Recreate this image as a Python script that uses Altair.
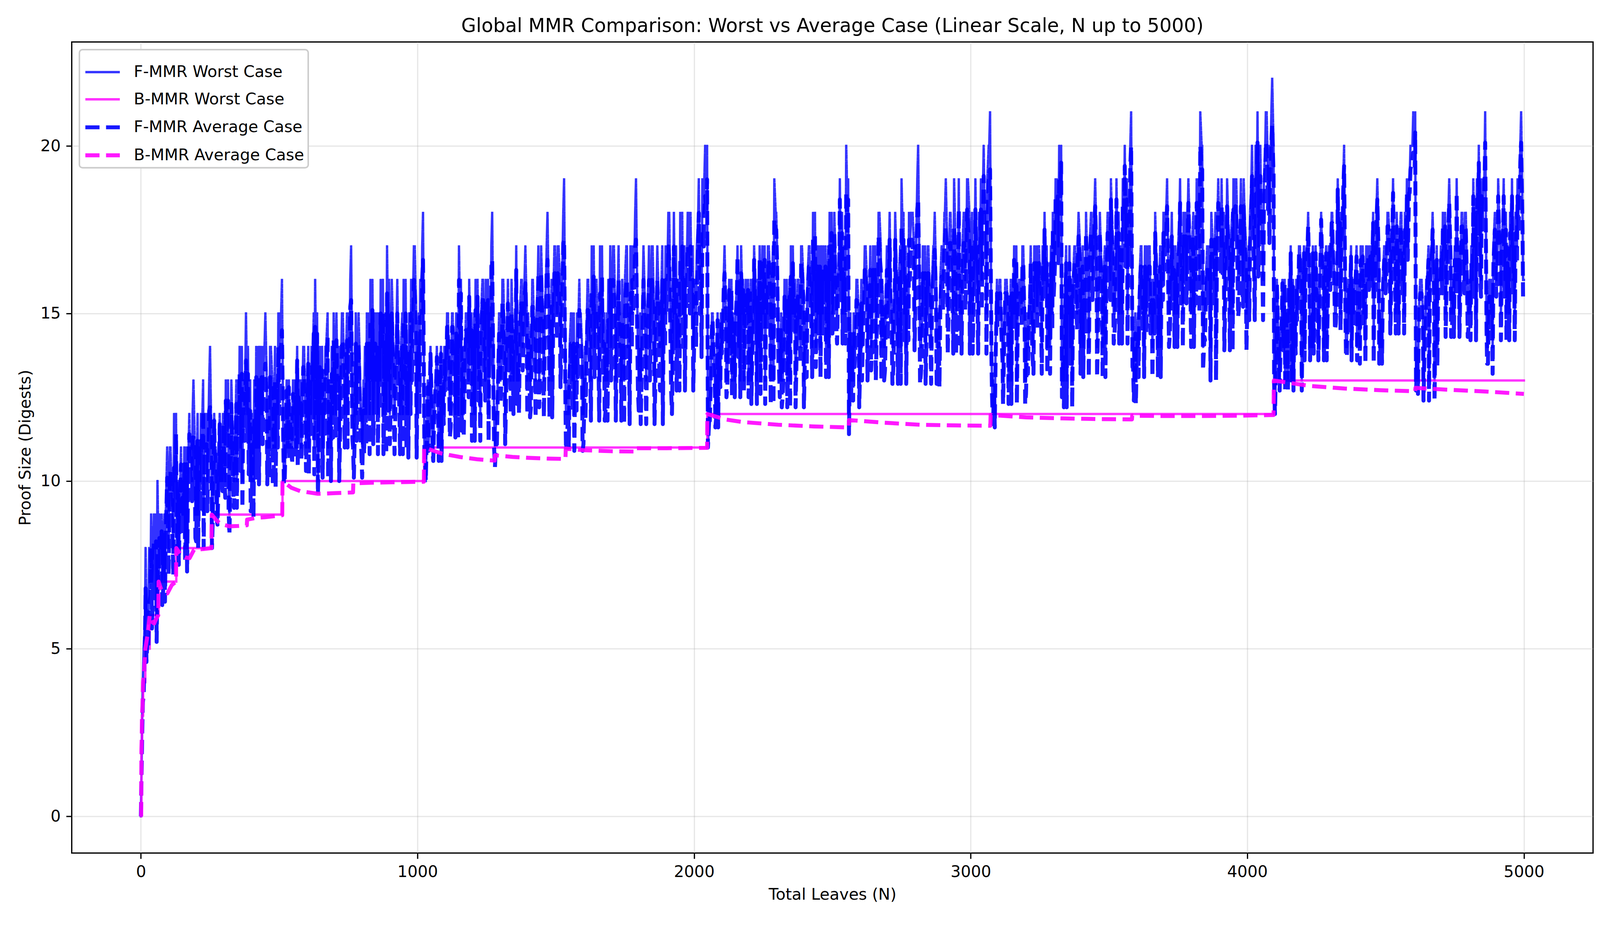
import altair as alt
import pandas as pd

# sample positions (total leaves N) for the F-MMR curves
n_leaves = list(range(0, 5001, 10))
n_mid = list(range(5, 5000, 10))
n_late = list(range(7, 5000, 10))

f_worst = [
    0, 5, 6, 8, 7, 8, 10, 8, 8, 9,
    8, 10, 12, 8, 9, 10, 8, 10, 11, 13,
    9, 11, 11, 12, 10, 14, 9, 11, 10, 11,
    11, 12, 9, 12, 11, 13, 11, 13, 15, 11,
    10, 13, 11, 14, 12, 15, 12, 14, 11, 13,
    13, 16, 10, 11, 12, 13, 11, 13, 11, 14,
    12, 13, 13, 16, 10, 12, 13, 14, 12, 14,
    14, 13, 12, 15, 13, 15, 17, 11, 12, 14,
    11, 14, 13, 16, 12, 13, 15, 14, 13, 17,
    12, 15, 13, 14, 14, 16, 12, 15, 14, 17,
    14, 16, 18, 10, 11, 13, 12, 14, 13, 13,
    13, 15, 12, 14, 15, 17, 12, 13, 15, 14,
    13, 16, 13, 15, 14, 15, 15, 18, 11, 13,
    13, 16, 13, 14, 16, 14, 13, 15, 14, 17,
    15, 13, 15, 15, 13, 16, 15, 18, 14, 15,
    16, 17, 15, 19, 12, 14, 13, 14, 14, 15,
    12, 14, 15, 17, 14, 15, 17, 14, 13, 16,
    14, 17, 15, 14, 16, 16, 14, 17, 16, 19,
    13, 14, 16, 15, 14, 17, 14, 16, 15, 16,
    16, 18, 13, 15, 16, 18, 15, 16, 18, 16,
    15, 17, 16, 19, 20, 11, 13, 14, 12, 14,
    14, 17, 13, 14, 15, 15, 14, 17, 13, 15,
    14, 14, 16, 16, 13, 15, 16, 17, 15, 19,
    17, 13, 13, 15, 14, 17, 15, 14, 15, 17,
    14, 16, 16, 18, 14, 15, 17, 16, 15, 18,
    15, 17, 16, 16, 17, 20, 12, 14, 14, 16,
    14, 15, 17, 15, 14, 16, 15, 18, 16, 14,
    15, 16, 14, 17, 16, 19, 15, 16, 17, 18,
    16, 20, 14, 16, 15, 16, 16, 18, 14, 16,
    16, 19, 16, 17, 19, 16, 15, 17, 16, 19,
    17, 16, 17, 18, 16, 18, 19, 21, 12, 14,
    15, 15, 14, 16, 14, 16, 15, 15, 16, 17,
    13, 15, 15, 17, 15, 16, 17, 16, 15, 17,
    16, 18, 20, 13, 15, 16, 14, 16, 16, 18,
    15, 16, 17, 17, 16, 19, 15, 17, 16, 16,
    17, 18, 15, 17, 17, 19, 17, 18, 21, 13,
    14, 16, 15, 17, 16, 15, 16, 17, 15, 17,
    17, 19, 15, 16, 17, 17, 16, 18, 16, 18,
    17, 17, 18, 21, 14, 16, 16, 18, 16, 17,
    18, 17, 16, 18, 17, 19, 19, 16, 17, 18,
    16, 18, 18, 20, 17, 18, 19, 21, 18, 22,
    12, 15, 14, 14, 15, 16, 13, 15, 15, 17,
    15, 16, 18, 15, 14, 16, 15, 17, 16, 15,
    16, 17, 15, 17, 17, 20, 14, 15, 16, 16,
    15, 17, 15, 17, 16, 16, 17, 19, 14, 16,
    16, 18, 16, 17, 18, 17, 16, 18, 17, 20,
    21, 13, 15, 16, 14, 16, 16, 18, 15, 16,
    17, 17, 16, 19, 15, 17, 16, 16, 17, 18,
    15, 17, 17, 19, 17, 18, 21, 14, 15, 17,
    16, 18, 17, 16, 17, 18, 16, 18, 18, 21,
    16,
]

# values read between the samples above (N = 5, 15, ... 4995)
f_worst_mid = [
    3, 6, 6, 7, 8, 9, 7, 9, 9, 11,
    11, 9, 10, 10, 11, 9, 11, 12, 10, 11,
    12, 10, 13, 11, 12, 11, 12, 9, 12, 10,
    10, 13, 11, 10, 13, 12, 14, 12, 12, 13,
    12, 11, 14, 12, 14, 13, 11, 13, 14, 12,
    15, 11, 12, 13, 11, 12, 14, 12, 13, 12,
    14, 12, 15, 12, 12, 14, 12, 15, 13, 12,
    12, 14, 14, 13, 15, 14, 12, 13, 14, 12,
    13, 12, 15, 13, 14, 15, 13, 16, 15, 13,
    14, 13, 15, 13, 15, 13, 14, 13, 16, 15,
    15, 15, 11, 12, 13, 11, 13, 12, 14, 12,
    14, 13, 15, 13, 14, 14, 14, 15, 13, 15,
    15, 14, 14, 16, 13, 16, 14, 13, 12, 15,
    14, 14, 15, 15, 14, 15, 14, 16, 15, 15,
    14, 16, 14, 16, 15, 14, 16, 15, 16, 17,
    15, 16, 17, 13, 13, 15, 15, 13, 16, 14,
    14, 16, 14, 15, 16, 14, 15, 15, 15, 15,
    16, 15, 16, 15, 14, 17, 15, 15, 17, 15,
    15, 16, 14, 16, 16, 15, 16, 14, 17, 15,
    17, 15, 16, 17, 15, 16, 17, 17, 16, 17,
    16, 18, 17, 18, 19, 12, 15, 13, 15, 13,
    15, 15, 15, 16, 14, 16, 16, 15, 15, 16,
    16, 15, 15, 14, 16, 17, 15, 16, 17, 18,
    14, 15, 14, 16, 16, 15, 16, 16, 14, 16,
    15, 17, 15, 16, 16, 17, 15, 17, 17, 16,
    16, 15, 17, 18, 16, 18, 15, 13, 15, 15,
    16, 16, 16, 16, 15, 17, 16, 17, 15, 16,
    17, 15, 16, 15, 17, 17, 17, 15, 18, 17,
    18, 16, 15, 17, 17, 15, 17, 16, 15, 17,
    18, 17, 18, 16, 17, 17, 16, 18, 17, 18,
    18, 17, 16, 17, 19, 18, 20, 14, 13, 16,
    16, 14, 16, 15, 16, 15, 17, 16, 15, 15,
    15, 16, 14, 16, 17, 15, 16, 17, 16, 15,
    17, 19, 19, 14, 17, 15, 16, 17, 15, 17,
    17, 15, 16, 18, 17, 17, 16, 16, 17, 18,
    16, 17, 16, 18, 16, 18, 19, 17, 14, 15,
    15, 17, 16, 15, 17, 16, 15, 16, 17, 16,
    18, 16, 17, 17, 16, 18, 17, 17, 18, 16,
    18, 16, 19, 20, 15, 17, 17, 17, 18, 19,
    17, 18, 17, 17, 18, 18, 17, 18, 16, 17,
    17, 19, 17, 19, 19, 17, 20, 19, 20, 20,
    14, 13, 15, 16, 14, 15, 16, 14, 16, 16,
    17, 17, 16, 14, 16, 15, 17, 16, 17, 17,
    18, 16, 16, 18, 18, 15, 16, 17, 15, 17,
    16, 16, 16, 16, 17, 18, 16, 17, 15, 17,
    17, 17, 18, 16, 16, 18, 17, 17, 19, 20,
    20, 14, 16, 15, 15, 17, 17, 16, 17, 16,
    16, 18, 17, 17, 16, 16, 17, 18, 16, 16,
    16, 16, 18, 18, 16, 19, 15, 16, 16, 18,
    17, 17, 18, 18, 16, 17, 17, 17, 19, 18,
]

# N = 7, 17, ... 4997
f_worst_late = [
    4, 8, 6, 9, 9, 6, 9, 7, 7, 10,
    11, 8, 12, 8, 9, 11, 8, 11, 12, 9,
    9, 12, 9, 12, 13, 9, 11, 9, 10, 12,
    13, 10, 13, 10, 10, 14, 10, 13, 14, 10,
    10, 14, 11, 14, 14, 11, 14, 11, 11, 15,
    15, 10, 13, 11, 11, 13, 11, 13, 14, 11,
    11, 14, 11, 15, 14, 11, 14, 11, 11, 15,
    15, 11, 15, 12, 12, 16, 12, 15, 15, 12,
    12, 15, 12, 16, 15, 12, 16, 12, 12, 16,
    16, 12, 16, 12, 12, 16, 12, 16, 17, 12,
    13, 17, 11, 13, 14, 11, 13, 11, 11, 14,
    15, 12, 15, 12, 12, 16, 12, 15, 16, 12,
    12, 16, 12, 16, 16, 12, 17, 12, 12, 15,
    16, 12, 16, 13, 13, 17, 13, 16, 16, 13,
    13, 16, 13, 17, 17, 13, 17, 13, 13, 17,
    17, 14, 18, 12, 12, 15, 12, 15, 15, 12,
    13, 16, 13, 17, 16, 13, 17, 13, 13, 17,
    17, 13, 17, 13, 13, 17, 13, 17, 18, 14,
    13, 17, 13, 17, 17, 13, 17, 14, 13, 17,
    18, 14, 18, 14, 14, 18, 14, 18, 18, 14,
    15, 19, 15, 19, 20, 12, 15, 12, 12, 15,
    16, 13, 16, 13, 13, 17, 13, 16, 16, 13,
    13, 17, 13, 17, 17, 13, 17, 13, 13, 18,
    14, 13, 16, 13, 13, 17, 13, 16, 17, 13,
    14, 17, 14, 18, 17, 14, 17, 14, 14, 18,
    18, 15, 19, 15, 15, 19, 13, 15, 16, 13,
    14, 17, 14, 17, 17, 14, 18, 14, 14, 17,
    18, 14, 18, 14, 14, 18, 14, 18, 18, 15,
    19, 14, 17, 14, 17, 14, 17, 14, 14, 17,
    18, 15, 18, 15, 15, 19, 15, 18, 19, 15,
    15, 19, 15, 19, 20, 15, 20, 13, 12, 15,
    16, 13, 16, 13, 13, 17, 13, 16, 17, 13,
    14, 17, 14, 17, 17, 14, 18, 14, 14, 18,
    19, 17, 20, 13, 13, 17, 13, 17, 17, 14,
    14, 18, 14, 18, 18, 14, 18, 14, 14, 18,
    19, 15, 19, 15, 15, 20, 15, 20, 14, 13,
    14, 17, 14, 17, 17, 14, 18, 14, 14, 18,
    18, 15, 18, 15, 15, 19, 15, 18, 19, 15,
    15, 19, 16, 20, 15, 17, 14, 17, 14, 18,
    19, 15, 19, 15, 15, 19, 16, 19, 19, 15,
    16, 20, 16, 21, 20, 16, 21, 20, 21, 13,
    16, 13, 16, 13, 13, 17, 13, 16, 17, 13,
    14, 17, 14, 17, 17, 14, 18, 14, 14, 17,
    18, 15, 19, 15, 19, 14, 16, 14, 16, 14,
    14, 17, 14, 17, 17, 14, 18, 14, 14, 17,
    18, 15, 19, 15, 15, 18, 15, 19, 19, 20,
    21, 13, 16, 13, 16, 13, 17, 13, 14, 16,
    18, 15, 18, 15, 15, 19, 15, 18, 18, 15,
    15, 19, 15, 20, 19, 19, 14, 16, 14, 17,
    19, 15, 19, 15, 15, 19, 15, 19, 20, 16,
]

f_avg = [
    0, 3.6, 4.6, 6.3, 5.6, 6.5, 7.3, 7.6, 6.6, 8.3,
    7.2, 9.1, 10.4, 7.9, 8.7, 9.5, 7.6, 9.4, 9.8, 11.3,
    8.2, 10.1, 10.2, 10.8, 9.1, 12.2, 8.9, 10.8, 9.7, 10.6,
    10.5, 11.4, 8.4, 11.1, 10.3, 12.3, 10.3, 12.2, 13.6, 10.2,
    9.1, 11.8, 10.1, 12.6, 11.1, 13.5, 11.1, 12.9, 10.1, 12.0,
    12.0, 14.5, 10.0, 10.9, 11.8, 12.6, 10.7, 12.5, 10.6, 13.1,
    11.5, 12.4, 12.3, 14.6, 9.6, 11.4, 12.3, 13.2, 11.3, 13.2,
    13.3, 12.3, 11.3, 14.1, 12.2, 14.1, 15.4, 10.1, 11.2, 12.9,
    10.1, 12.8, 12.1, 14.8, 11.1, 12.1, 13.8, 13.1, 12.1, 15.6,
    11.1, 13.8, 12.0, 13.1, 13.0, 14.8, 11.0, 13.8, 13.0, 15.7,
    13.0, 14.9, 16.6, 10.0, 10.9, 12.8, 11.8, 13.7, 12.8, 12.7,
    12.7, 14.3, 11.6, 13.6, 14.4, 16.0, 11.5, 12.6, 14.2, 13.5,
    12.5, 15.1, 12.4, 14.4, 13.4, 14.4, 14.4, 16.6, 10.4, 12.4,
    12.3, 15.0, 12.3, 13.3, 15.0, 13.3, 12.3, 14.3, 13.3, 15.9,
    14.2, 12.2, 14.2, 14.2, 12.2, 15.1, 14.2, 16.6, 13.2, 14.2,
    15.2, 15.8, 14.1, 17.2, 11.2, 13.2, 12.1, 13.0, 13.1, 14.1,
    11.1, 13.1, 14.0, 15.7, 13.1, 14.1, 15.6, 13.1, 12.1, 14.8,
    13.0, 15.6, 14.0, 13.0, 14.8, 15.0, 13.0, 15.6, 15.0, 17.2,
    12.1, 13.0, 14.8, 14.0, 13.0, 15.7, 13.0, 15.0, 14.0, 14.8,
    15.0, 16.6, 12.0, 14.0, 14.8, 16.6, 14.0, 15.0, 16.5, 15.0,
    14.0, 15.8, 15.0, 17.5, 18.5, 11.0, 12.9, 13.8, 11.9, 13.8,
    13.8, 16.2, 12.8, 13.8, 14.7, 14.7, 13.7, 16.2, 12.7, 14.7,
    13.7, 13.7, 15.4, 15.6, 12.6, 14.6, 15.4, 16.6, 14.6, 17.8,
    16.5, 12.5, 12.5, 14.5, 13.5, 16.1, 14.5, 13.5, 14.5, 16.1,
    13.4, 15.4, 15.4, 17.2, 13.4, 14.4, 16.1, 15.4, 14.4, 17.0,
    14.4, 16.2, 15.4, 15.4, 16.2, 18.6, 11.4, 13.4, 13.4, 15.3,
    13.3, 14.3, 16.1, 14.3, 13.3, 15.2, 14.3, 16.8, 15.2, 13.3,
    14.2, 15.2, 13.3, 16.0, 15.2, 17.6, 14.2, 15.2, 16.0, 17.0,
    15.2, 18.4, 13.2, 15.2, 14.2, 15.2, 15.1, 16.9, 13.2, 15.1,
    15.1, 17.6, 15.1, 16.1, 17.6, 15.1, 14.1, 16.1, 15.1, 17.6,
    16.1, 15.1, 16.1, 17.0, 15.1, 17.0, 17.6, 19.3, 11.7, 13.6,
    14.6, 14.6, 13.6, 15.6, 13.6, 15.6, 14.6, 14.6, 15.6, 16.5,
    12.6, 14.5, 14.5, 16.5, 14.5, 15.5, 16.5, 15.5, 14.5, 16.5,
    15.5, 17.4, 19.0, 12.5, 14.5, 15.5, 13.5, 15.5, 15.5, 17.3,
    14.5, 15.4, 16.4, 16.4, 15.4, 18.2, 14.4, 16.4, 15.4, 15.4,
    16.4, 17.3, 14.4, 16.4, 16.4, 18.2, 16.4, 17.3, 20.0, 12.4,
    13.4, 15.4, 14.4, 16.4, 15.4, 14.4, 15.4, 16.4, 14.4, 16.3,
    16.3, 18.2, 14.4, 15.3, 16.3, 16.3, 15.3, 17.3, 15.3, 17.3,
    16.3, 16.3, 17.3, 20.0, 13.3, 15.3, 15.3, 17.2, 15.3, 16.3,
    17.2, 16.2, 15.3, 17.2, 16.2, 18.1, 18.0, 15.2, 16.2, 17.2,
    15.1, 17.1, 17.1, 19.0, 16.1, 17.1, 18.1, 19.9, 17.1, 20.6,
    12.0, 14.9, 13.9, 13.9, 14.8, 15.8, 12.9, 14.8, 14.8, 16.7,
    14.8, 15.8, 17.6, 14.8, 13.8, 15.8, 14.8, 16.7, 15.8, 14.8,
    15.7, 16.7, 14.7, 16.7, 16.7, 19.4, 13.7, 14.7, 15.7, 15.7,
    14.7, 16.6, 14.7, 16.6, 15.7, 15.7, 16.6, 18.4, 13.7, 15.6,
    15.6, 17.6, 15.6, 16.6, 17.6, 16.6, 15.6, 17.5, 16.6, 19.3,
    19.8, 12.7, 14.6, 15.6, 13.6, 15.6, 15.6, 17.5, 14.6, 15.6,
    16.6, 16.6, 15.6, 18.3, 14.6, 16.6, 15.6, 15.6, 16.6, 17.5,
    14.6, 16.5, 16.5, 18.4, 16.5, 17.5, 20.1, 13.5, 14.5, 16.5,
    15.5, 17.4, 16.5, 15.5, 16.5, 17.4, 15.5, 17.4, 17.4, 20.1,
    15.5,
]

f_avg_mid = [
    2.6, 5.3, 5.5, 6.6, 7.3, 8.2, 6.9, 8.5, 8.4, 10.1,
    10.1, 8.1, 9.5, 9.6, 10.5, 8.6, 10.5, 11.4, 9.4, 10.2,
    11.2, 9.1, 12.1, 10.2, 11.1, 10.3, 11.8, 8.8, 11.7, 9.7,
    9.5, 12.4, 10.4, 9.3, 12.3, 11.3, 13.2, 11.2, 11.2, 12.1,
    11.1, 10.1, 13.1, 11.1, 13.1, 12.1, 10.1, 12.0, 13.0, 11.0,
    14.0, 11.0, 11.9, 12.8, 10.8, 11.7, 13.6, 11.6, 12.6, 11.6,
    13.5, 11.4, 14.4, 11.5, 11.4, 13.3, 11.3, 14.3, 12.3, 11.3,
    11.3, 13.2, 13.2, 12.3, 14.2, 13.2, 11.2, 12.2, 13.1, 11.1,
    12.1, 11.1, 14.1, 12.1, 13.1, 14.1, 12.1, 15.0, 14.0, 12.1,
    13.0, 12.0, 14.0, 12.0, 14.0, 12.0, 13.0, 12.0, 15.0, 14.0,
    14.0, 14.0, 10.9, 11.9, 12.8, 10.8, 12.8, 11.8, 13.8, 11.7,
    13.7, 12.7, 14.6, 12.6, 13.6, 13.6, 13.5, 14.5, 12.5, 14.5,
    14.5, 13.5, 13.4, 15.4, 12.4, 15.4, 13.4, 12.4, 11.4, 14.4,
    13.3, 13.3, 14.3, 14.3, 13.3, 14.3, 13.3, 15.3, 14.3, 14.3,
    13.2, 15.2, 13.2, 15.2, 14.2, 13.2, 15.2, 14.2, 15.2, 16.2,
    14.2, 15.1, 16.1, 12.2, 12.1, 14.1, 14.1, 12.1, 15.1, 13.1,
    13.1, 15.1, 13.1, 14.1, 15.1, 13.1, 14.1, 14.1, 14.0, 14.0,
    15.0, 14.0, 15.0, 14.0, 13.0, 16.0, 14.0, 14.0, 16.0, 14.0,
    14.0, 15.0, 13.0, 15.0, 15.0, 14.0, 15.0, 13.0, 16.0, 14.0,
    16.0, 14.0, 15.0, 16.0, 14.0, 15.0, 16.0, 16.0, 15.0, 16.0,
    15.0, 17.0, 16.0, 17.0, 18.0, 11.9, 14.8, 12.8, 14.8, 12.8,
    14.8, 14.8, 14.8, 15.7, 13.7, 15.7, 15.7, 14.7, 14.7, 15.7,
    15.6, 14.6, 14.6, 13.6, 15.6, 16.6, 14.6, 15.6, 16.6, 17.5,
    13.5, 14.5, 13.5, 15.5, 15.5, 14.5, 15.5, 15.5, 13.5, 15.5,
    14.4, 16.4, 14.4, 15.4, 15.4, 16.4, 14.4, 16.4, 16.4, 15.4,
    15.4, 14.4, 16.4, 17.4, 15.4, 17.4, 14.4, 12.4, 14.4, 14.4,
    15.3, 15.3, 15.3, 15.3, 14.3, 16.3, 15.3, 16.3, 14.3, 15.3,
    16.2, 14.2, 15.2, 14.2, 16.2, 16.2, 16.2, 14.2, 17.2, 16.2,
    17.2, 15.2, 14.2, 16.2, 16.2, 14.2, 16.2, 15.2, 14.1, 16.1,
    17.1, 16.1, 17.1, 15.1, 16.1, 16.1, 15.1, 17.1, 16.1, 17.1,
    17.1, 16.1, 15.1, 16.1, 18.1, 17.1, 19.1, 13.7, 12.6, 15.6,
    15.6, 13.6, 15.6, 14.6, 15.6, 14.6, 16.6, 15.6, 14.6, 14.6,
    14.5, 15.5, 13.5, 15.5, 16.5, 14.5, 15.5, 16.5, 15.5, 14.5,
    16.5, 18.5, 18.5, 13.5, 16.5, 14.5, 15.5, 16.5, 14.5, 16.5,
    16.4, 14.4, 15.4, 17.4, 16.4, 16.4, 15.4, 15.4, 16.4, 17.4,
    15.4, 16.4, 15.4, 17.4, 15.4, 17.4, 18.4, 16.4, 13.4, 14.4,
    14.4, 16.4, 15.4, 14.4, 16.4, 15.4, 14.4, 15.4, 16.4, 15.4,
    17.3, 15.3, 16.3, 16.3, 15.3, 17.3, 16.3, 16.3, 17.3, 15.3,
    17.3, 15.3, 18.3, 19.3, 14.3, 16.3, 16.3, 16.3, 17.3, 18.3,
    16.2, 17.2, 16.2, 16.2, 17.2, 17.2, 16.2, 17.2, 15.2, 16.2,
    16.1, 18.1, 16.1, 18.1, 18.1, 16.1, 19.1, 18.1, 19.1, 19.1,
    13.9, 12.9, 14.9, 15.9, 13.9, 14.8, 15.8, 13.8, 15.8, 15.8,
    16.8, 16.8, 15.8, 13.8, 15.8, 14.8, 16.8, 15.8, 16.8, 16.7,
    17.7, 15.7, 15.7, 17.7, 17.7, 14.7, 15.7, 16.7, 14.7, 16.7,
    15.7, 15.7, 15.7, 15.7, 16.7, 17.7, 15.7, 16.7, 14.7, 16.6,
    16.6, 16.6, 17.6, 15.6, 15.6, 17.6, 16.6, 16.6, 18.6, 19.5,
    19.4, 13.7, 15.6, 14.6, 14.6, 16.6, 16.6, 15.6, 16.6, 15.6,
    15.6, 17.6, 16.6, 16.6, 15.6, 15.6, 16.6, 17.6, 15.6, 15.6,
    15.5, 15.5, 17.5, 17.5, 15.5, 18.5, 14.5, 15.5, 15.5, 17.5,
    16.5, 16.5, 17.5, 17.5, 15.5, 16.5, 16.5, 16.5, 18.5, 17.5,
]

f_avg_late = [
    3.4, 6.8, 5.0, 8.0, 8.2, 5.2, 8.3, 6.3, 6.4, 9.2,
    10.3, 7.2, 11.4, 7.5, 8.4, 10.5, 7.3, 10.5, 11.3, 8.3,
    8.0, 11.2, 8.0, 11.1, 12.1, 8.0, 10.8, 8.7, 9.7, 11.7,
    12.4, 9.2, 12.3, 9.2, 9.2, 13.2, 9.2, 12.2, 13.2, 9.1,
    8.9, 13.1, 9.9, 13.1, 13.1, 9.9, 13.1, 9.9, 9.8, 14.0,
    14.0, 9.9, 12.7, 10.6, 10.5, 12.5, 10.4, 12.4, 13.4, 10.3,
    10.2, 13.4, 10.2, 14.4, 13.4, 10.1, 13.3, 10.1, 10.0, 14.2,
    14.2, 10.0, 14.2, 11.0, 11.0, 15.2, 11.0, 14.1, 14.1, 10.9,
    10.8, 14.1, 10.8, 15.1, 14.1, 10.8, 15.0, 10.8, 10.8, 15.0,
    15.0, 10.8, 15.0, 10.8, 10.8, 15.0, 10.7, 15.0, 16.0, 10.7,
    12.0, 16.0, 10.8, 12.8, 13.8, 10.6, 12.8, 10.6, 10.6, 13.7,
    14.6, 11.3, 14.6, 11.3, 11.3, 15.6, 11.3, 14.5, 15.5, 11.2,
    11.2, 15.5, 11.2, 15.4, 15.4, 11.2, 16.4, 11.0, 11.1, 14.4,
    15.3, 11.1, 15.3, 12.0, 12.0, 16.3, 12.0, 15.3, 15.3, 12.0,
    11.9, 15.2, 11.9, 16.2, 16.2, 11.9, 16.2, 11.9, 11.9, 16.2,
    16.2, 12.8, 17.1, 10.9, 11.0, 14.1, 10.9, 14.1, 14.1, 10.9,
    11.8, 15.1, 11.8, 16.1, 15.1, 11.8, 16.1, 11.8, 11.8, 16.0,
    16.0, 11.8, 16.0, 11.8, 11.7, 16.0, 11.7, 16.0, 17.0, 12.7,
    11.7, 16.0, 11.7, 16.0, 16.0, 11.7, 16.0, 12.7, 11.7, 16.0,
    17.0, 12.7, 17.0, 12.7, 12.7, 17.0, 12.7, 17.0, 17.0, 12.7,
    14.0, 18.0, 13.7, 18.0, 19.0, 11.8, 14.8, 11.6, 11.6, 14.8,
    15.7, 12.5, 15.7, 12.5, 12.5, 16.7, 12.5, 15.7, 15.7, 12.5,
    12.3, 16.6, 12.3, 16.6, 16.6, 12.3, 16.6, 12.3, 12.3, 17.5,
    13.3, 12.2, 15.5, 12.2, 12.2, 16.5, 12.2, 15.5, 16.5, 12.2,
    13.1, 16.4, 13.1, 17.4, 16.4, 13.1, 16.4, 13.1, 13.1, 17.4,
    17.4, 14.1, 18.4, 14.1, 14.1, 18.4, 12.3, 14.4, 15.4, 12.2,
    13.0, 16.3, 13.0, 16.3, 16.3, 13.0, 17.3, 13.0, 13.0, 16.3,
    17.2, 12.9, 17.2, 12.9, 12.9, 17.2, 12.9, 17.2, 17.2, 13.9,
    18.1, 12.9, 16.2, 12.9, 16.2, 12.9, 16.1, 12.9, 12.8, 16.1,
    17.1, 13.8, 17.1, 13.8, 13.8, 18.1, 13.8, 17.1, 18.1, 13.8,
    13.8, 18.1, 13.8, 18.1, 19.1, 13.8, 19.1, 12.6, 11.6, 14.6,
    15.6, 12.3, 15.6, 12.3, 12.3, 16.6, 12.3, 15.6, 16.5, 12.3,
    13.2, 16.5, 13.2, 16.5, 16.5, 13.2, 17.5, 13.2, 13.2, 17.5,
    18.5, 16.5, 19.5, 12.2, 12.2, 16.5, 12.2, 16.5, 16.5, 13.2,
    13.1, 17.4, 13.1, 17.4, 17.4, 13.1, 17.4, 13.1, 13.1, 17.4,
    18.4, 14.1, 18.4, 14.1, 14.1, 19.4, 14.1, 19.4, 13.4, 12.3,
    13.1, 16.4, 13.1, 16.4, 16.4, 13.1, 17.4, 13.1, 13.1, 17.4,
    17.3, 14.0, 17.3, 14.0, 14.0, 18.3, 14.0, 17.3, 18.3, 14.0,
    14.0, 18.3, 15.0, 19.3, 14.2, 16.3, 13.0, 16.3, 13.0, 17.3,
    18.2, 13.9, 18.2, 13.9, 13.9, 18.2, 14.9, 18.2, 18.2, 13.9,
    14.8, 19.1, 14.8, 20.1, 19.1, 14.8, 20.1, 19.1, 20.1, 12.9,
    15.9, 12.7, 15.9, 12.7, 12.7, 16.8, 12.7, 15.8, 16.8, 12.7,
    13.6, 16.8, 13.6, 16.8, 16.8, 13.6, 17.8, 13.6, 13.6, 16.8,
    17.7, 14.5, 18.7, 14.5, 18.7, 13.7, 15.7, 13.6, 15.7, 13.6,
    13.5, 16.7, 13.5, 16.7, 16.7, 13.5, 17.7, 13.5, 13.5, 16.6,
    17.6, 14.4, 18.6, 14.4, 14.4, 17.6, 14.4, 18.6, 18.6, 19.6,
    20.4, 12.6, 15.6, 12.4, 15.6, 12.4, 16.6, 12.4, 13.4, 15.6,
    17.6, 14.3, 17.6, 14.3, 14.3, 18.6, 14.3, 17.6, 17.6, 14.3,
    14.2, 18.5, 14.2, 19.5, 18.5, 18.5, 13.5, 15.5, 13.2, 16.5,
    18.5, 14.2, 18.5, 14.2, 14.2, 18.5, 14.2, 18.5, 19.5, 15.5,
]

# B-MMR worst case is a staircase
b_worst_n = [1, 2, 4, 8, 16, 32, 64, 128, 256, 512, 1024, 2048, 4096, 5000]
b_worst = [0, 2, 3, 4, 5, 6, 7, 8, 9, 10, 11, 12, 13, 13]

b_avg_n = [
    1, 2, 3, 4, 6, 8, 12, 16, 24, 32, 40, 48, 56, 63,
    64, 72, 80, 96, 112, 127, 128, 144, 160, 176, 192, 224, 255,
    256, 272, 288, 320, 352, 383, 384, 416, 448, 480, 511,
    512, 544, 576, 640, 704, 767, 768, 832, 896, 960, 1023,
    1024, 1088, 1152, 1216, 1279, 1280, 1344, 1408, 1472, 1535,
    1536, 1600, 1700, 1791, 1792, 1900, 2047,
    2048, 2112, 2176, 2304, 2432, 2559, 2560, 2688, 2816, 2944, 3071,
    3072, 3200, 3328, 3456, 3583, 3584, 3712, 3840, 3968, 4095,
    4096, 4224, 4352, 4480, 4607, 4608, 4736, 4864, 5000,
]
b_avg = [
    0.0, 2.0, 2.3, 3.0, 3.3, 4.0, 4.4, 5.0, 5.4, 6.0, 5.8, 5.75, 5.9, 6.0,
    7.0, 6.8, 6.7, 6.65, 6.9, 7.0, 8.0, 7.8, 7.72, 7.7, 7.95, 7.97, 8.0,
    9.0, 8.84, 8.72, 8.65, 8.66, 8.68, 8.85, 8.9, 8.92, 8.95, 8.98,
    10.0, 9.8, 9.7, 9.62, 9.64, 9.66, 9.93, 9.95, 9.96, 9.97, 9.98,
    11.0, 10.82, 10.72, 10.65, 10.61, 10.77, 10.72, 10.69, 10.67, 10.66,
    10.97, 10.92, 10.89, 10.88, 10.98, 10.98, 10.99,
    12.0, 11.84, 11.76, 11.68, 11.63, 11.6, 11.82, 11.74, 11.68, 11.66, 11.65,
    11.97, 11.9, 11.87, 11.85, 11.84, 11.95, 11.94, 11.94, 11.95, 11.97,
    13.0, 12.84, 12.76, 12.71, 12.68, 12.78, 12.72, 12.67, 12.6,
]

series = ["F-MMR Worst Case", "B-MMR Worst Case", "F-MMR Average Case", "B-MMR Average Case"]

f_n = n_leaves + n_mid + n_late
df_fw = pd.DataFrame({"N": f_n, "size": f_worst + f_worst_mid + f_worst_late}).sort_values("N")
df_fw["series"] = series[0]
df_fa = pd.DataFrame({"N": f_n, "size": f_avg + f_avg_mid + f_avg_late}).sort_values("N")
df_fa["series"] = series[2]
df_bw = pd.DataFrame({"N": b_worst_n, "size": b_worst, "series": series[1]})
df_ba = pd.DataFrame({"N": b_avg_n, "size": b_avg, "series": series[3]})

FONT = "DejaVu Sans"

x_enc = alt.X("N:Q", title="Total Leaves (N)",
              scale=alt.Scale(domain=[-250, 5250], nice=False, zero=False),
              axis=alt.Axis(values=[0, 1000, 2000, 3000, 4000, 5000], format="d"))
y_enc = alt.Y("size:Q", title="Proof Size (Digests)",
              scale=alt.Scale(domain=[-1.1, 23.1], nice=False, zero=False),
              axis=alt.Axis(values=[0, 5, 10, 15, 20]))
color_enc = alt.Color("series:N", title=None,
                      scale=alt.Scale(domain=series, range=["blue", "magenta", "blue", "magenta"]),
                      legend=alt.Legend(
                          orient="top-left", offset=20, padding=10,
                          fillColor="white", strokeColor="#cccccc", cornerRadius=8,
                          symbolType="stroke", symbolSize=8100, labelLimit=0,
                          labelOffset=31, rowPadding=-50,
                      ))
dash_enc = alt.StrokeDash("series:N", title=None,
                          scale=alt.Scale(domain=series, range=[[1, 0], [1, 0], [37, 17], [37, 17]]))
width_enc = alt.StrokeWidth("series:N", title=None,
                            scale=alt.Scale(type="ordinal", domain=series, range=[6.2, 6.2, 10.4, 10.4]))
opac_enc = alt.Opacity("series:N", title=None,
                       scale=alt.Scale(type="ordinal", domain=series, range=[0.8, 0.8, 0.9, 0.9]))


def line_layer(df, cap, interp="linear"):
    return alt.Chart(df).mark_line(
        strokeJoin="round", strokeCap=cap, interpolate=interp
    ).encode(x=x_enc, y=y_enc, color=color_enc, strokeDash=dash_enc,
             strokeWidth=width_enc, opacity=opac_enc)


chart = alt.layer(
    line_layer(df_fw, "square"),
    line_layer(df_bw, "square", "step-after"),
    line_layer(df_fa, "butt"),
    line_layer(df_ba, "butt"),
).properties(
    width=3969, height=2115,
    padding={"left": 37, "top": 13, "right": 10, "bottom": 10},
    title=alt.TitleParams("Global MMR Comparison: Worst vs Average Case (Linear Scale, N up to 5000)",
                          anchor="middle", frame="group"),
).configure_view(
    stroke="black", strokeWidth=3.3
).configure_title(
    font=FONT, fontSize=50, fontWeight="normal", color="black", offset=16
).configure_axis(
    labelFont=FONT, labelFontSize=41.7, labelColor="black",
    titleFont=FONT, titleFontSize=41.7, titleFontWeight="normal", titleColor="black",
    titlePadding=17, tickColor="black", tickWidth=3.3, tickSize=14.6, labelPadding=14.6,
    domain=False, gridColor="#b0b0b0", gridOpacity=0.3, gridWidth=3.3,
).configure_legend(
    labelFont=FONT, labelFontSize=41.7, labelColor="black", strokeWidth=4,
)

chart.save("out.html", embed_options={"renderer": "svg", "actions": False})
